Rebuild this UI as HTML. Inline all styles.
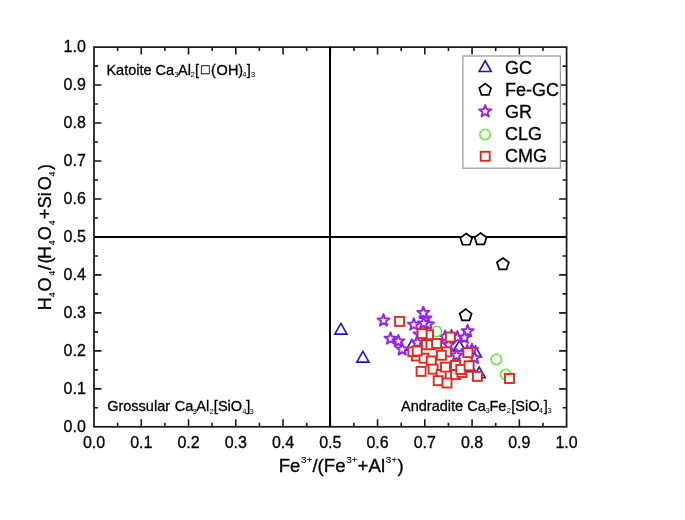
<!DOCTYPE html>
<html><head><meta charset="utf-8"><style>
html,body{margin:0;padding:0;background:#fff;width:685px;height:520px;overflow:hidden}
svg{display:block;filter:blur(0.3px)}
text{font-family:"Liberation Sans",Arial,sans-serif;fill:#000;stroke:#000;stroke-width:0.3px}
.tl{font-size:16px}
.at{font-size:18px}
.sup{font-size:9.6px;stroke-width:0.1px}
.sub{font-size:9px;stroke-width:0.1px}
.an{font-size:14.5px}
.s2{font-size:7.6px;stroke-width:0}
.lg{font-size:18px}
.box{font-size:14.3px;fill:#222}
</style></head><body>
<svg width="685" height="520" viewBox="0 0 685 520">
<rect width="685" height="520" fill="#fff"/>
<rect x="94.0" y="47.1" width="472.60" height="379.70" fill="none" stroke="#1a1a1a" stroke-width="1.75"/>
<path d="M117.63 426.80v-4M117.63 47.10v4M94.00 407.81h4M566.60 407.81h-4M141.26 426.80v-7.5M141.26 47.10v7.5M94.00 388.83h7.5M566.60 388.83h-7.5M164.89 426.80v-4M164.89 47.10v4M94.00 369.85h4M566.60 369.85h-4M188.52 426.80v-7.5M188.52 47.10v7.5M94.00 350.86h7.5M566.60 350.86h-7.5M212.15 426.80v-4M212.15 47.10v4M94.00 331.88h4M566.60 331.88h-4M235.78 426.80v-7.5M235.78 47.10v7.5M94.00 312.89h7.5M566.60 312.89h-7.5M259.41 426.80v-4M259.41 47.10v4M94.00 293.91h4M566.60 293.91h-4M283.04 426.80v-7.5M283.04 47.10v7.5M94.00 274.92h7.5M566.60 274.92h-7.5M306.67 426.80v-4M306.67 47.10v4M94.00 255.94h4M566.60 255.94h-4M330.30 426.80v-7.5M330.30 47.10v7.5M94.00 236.95h7.5M566.60 236.95h-7.5M353.93 426.80v-4M353.93 47.10v4M94.00 217.97h4M566.60 217.97h-4M377.56 426.80v-7.5M377.56 47.10v7.5M94.00 198.98h7.5M566.60 198.98h-7.5M401.19 426.80v-4M401.19 47.10v4M94.00 180.00h4M566.60 180.00h-4M424.82 426.80v-7.5M424.82 47.10v7.5M94.00 161.01h7.5M566.60 161.01h-7.5M448.45 426.80v-4M448.45 47.10v4M94.00 142.03h4M566.60 142.03h-4M472.08 426.80v-7.5M472.08 47.10v7.5M94.00 123.04h7.5M566.60 123.04h-7.5M495.71 426.80v-4M495.71 47.10v4M94.00 104.06h4M566.60 104.06h-4M519.34 426.80v-7.5M519.34 47.10v7.5M94.00 85.07h7.5M566.60 85.07h-7.5M542.97 426.80v-4M542.97 47.10v4M94.00 66.09h4M566.60 66.09h-4" stroke="#1a1a1a" stroke-width="1.6" fill="none"/>
<path d="M330.0 47.1V426.8M94.0 236.9H566.6" stroke="#000" stroke-width="2" fill="none"/>
<text x="94.00" y="448.4" class="tl" text-anchor="middle">0.0</text>
<text x="85.8" y="431.90" class="tl" text-anchor="end">0.0</text>
<text x="141.26" y="448.4" class="tl" text-anchor="middle">0.1</text>
<text x="85.8" y="393.93" class="tl" text-anchor="end">0.1</text>
<text x="188.52" y="448.4" class="tl" text-anchor="middle">0.2</text>
<text x="85.8" y="355.96" class="tl" text-anchor="end">0.2</text>
<text x="235.78" y="448.4" class="tl" text-anchor="middle">0.3</text>
<text x="85.8" y="317.99" class="tl" text-anchor="end">0.3</text>
<text x="283.04" y="448.4" class="tl" text-anchor="middle">0.4</text>
<text x="85.8" y="280.02" class="tl" text-anchor="end">0.4</text>
<text x="330.30" y="448.4" class="tl" text-anchor="middle">0.5</text>
<text x="85.8" y="242.05" class="tl" text-anchor="end">0.5</text>
<text x="377.56" y="448.4" class="tl" text-anchor="middle">0.6</text>
<text x="85.8" y="204.08" class="tl" text-anchor="end">0.6</text>
<text x="424.82" y="448.4" class="tl" text-anchor="middle">0.7</text>
<text x="85.8" y="166.11" class="tl" text-anchor="end">0.7</text>
<text x="472.08" y="448.4" class="tl" text-anchor="middle">0.8</text>
<text x="85.8" y="128.14" class="tl" text-anchor="end">0.8</text>
<text x="519.34" y="448.4" class="tl" text-anchor="middle">0.9</text>
<text x="85.8" y="90.17" class="tl" text-anchor="end">0.9</text>
<text x="566.60" y="448.4" class="tl" text-anchor="middle">1.0</text>
<text x="85.8" y="52.20" class="tl" text-anchor="end">1.0</text>
<text transform="translate(278.7 471.9) scale(1.037 1)" class="at" x="0" y="0">Fe<tspan class="sup" dx="0.6" y="-9.3">3+</tspan><tspan y="0">/(Fe</tspan><tspan class="sup" dx="0.6" y="-9.3">3+</tspan><tspan y="0">+Al</tspan><tspan class="sup" dx="0.6" y="-9.3">3+</tspan><tspan y="0" dx="0.4">)</tspan></text>
<text transform="translate(51.3 310) rotate(-90)" class="at"><tspan x="-0.23" y="0">H</tspan><tspan class="sub" x="12.89" y="3.6">4</tspan><tspan x="18.55" y="0">O</tspan><tspan class="sub" x="34.19" y="3.6">4</tspan><tspan x="40.00" y="0">/</tspan><tspan x="46.40" y="0">(</tspan><tspan x="51.00" y="0">H</tspan><tspan class="sub" x="64.80" y="3.6">4</tspan><tspan x="69.75" y="0">O</tspan><tspan class="sub" x="84.80" y="3.6">4</tspan><tspan x="91.00" y="0">+</tspan><tspan x="101.70" y="0">Si</tspan><tspan x="119.75" y="0">O</tspan><tspan class="sub" x="133.50" y="3.6">4</tspan><tspan x="139.90" y="0">)</tspan></text>
<text class="an"><tspan x="106.41" y="74.60">Katoite </tspan><tspan x="155.56" y="74.60">Ca</tspan><tspan class="s2" x="174.21" y="77.20">3</tspan><tspan x="178.07" y="74.60">Al</tspan><tspan class="s2" x="190.52" y="77.20">2</tspan><tspan x="195.07" y="74.60">[</tspan><tspan class="box" x="201.06" y="74.40">&#9633;</tspan><tspan x="210.90" y="74.60">(</tspan><tspan x="216.62" y="74.60">OH)</tspan><tspan class="s2" x="242.33" y="77.20">4</tspan><tspan x="246.78" y="74.60">]</tspan><tspan class="s2" x="250.91" y="77.20">3</tspan></text>
<text class="an"><tspan x="107.18" y="411.40">Grossular </tspan><tspan x="174.66" y="411.40">Ca</tspan><tspan class="s2" x="192.61" y="414.00">3</tspan><tspan x="196.37" y="411.40">Al</tspan><tspan class="s2" x="209.42" y="414.00">2</tspan><tspan x="213.87" y="411.40">[SiO</tspan><tspan class="s2" x="242.33" y="414.00">4</tspan><tspan x="246.28" y="411.40">]</tspan><tspan class="s2" x="249.61" y="414.00">3</tspan></text>
<text class="an"><tspan x="401.07" y="410.70">Andradite </tspan><tspan x="467.26" y="410.70">Ca</tspan><tspan class="s2" x="485.61" y="413.30">3</tspan><tspan x="489.51" y="410.70">Fe</tspan><tspan class="s2" x="506.82" y="413.30">2</tspan><tspan x="511.27" y="410.70">[SiO</tspan><tspan class="s2" x="538.83" y="413.30">4</tspan><tspan x="543.68" y="410.70">]</tspan><tspan class="s2" x="547.41" y="413.30">3</tspan></text>
<path d="M334.80 334.10H347.00L340.90 323.40Z" fill="#fff" stroke="#1b12d8" stroke-width="1.6" stroke-linejoin="miter"/>
<path d="M356.80 362.10H369.00L362.90 351.40Z" fill="#fff" stroke="#1b12d8" stroke-width="1.6" stroke-linejoin="miter"/>
<path d="M405.90 350.30H418.10L412.00 339.60Z" fill="#fff" stroke="#1b12d8" stroke-width="1.6" stroke-linejoin="miter"/>
<path d="M453.30 351.00H465.50L459.40 340.30Z" fill="#fff" stroke="#1b12d8" stroke-width="1.6" stroke-linejoin="miter"/>
<path d="M469.30 356.90H481.50L475.40 346.20Z" fill="#fff" stroke="#1b12d8" stroke-width="1.6" stroke-linejoin="miter"/>
<path d="M463.40 371.80H475.60L469.50 361.10Z" fill="#fff" stroke="#1b12d8" stroke-width="1.6" stroke-linejoin="miter"/>
<path d="M473.10 377.80H485.30L479.20 367.10Z" fill="#fff" stroke="#1b12d8" stroke-width="1.6" stroke-linejoin="miter"/>
<polygon points="466.20,233.45 472.14,237.77 469.87,244.76 462.53,244.76 460.26,237.77" fill="#fff" stroke="#000" stroke-width="1.7"/>
<polygon points="480.60,233.05 486.54,237.37 484.27,244.36 476.93,244.36 474.66,237.37" fill="#fff" stroke="#000" stroke-width="1.7"/>
<polygon points="502.90,258.05 508.84,262.37 506.57,269.36 499.23,269.36 496.96,262.37" fill="#fff" stroke="#000" stroke-width="1.7"/>
<polygon points="465.70,309.15 471.64,313.47 469.37,320.46 462.03,320.46 459.76,313.47" fill="#fff" stroke="#000" stroke-width="1.7"/>
<polygon points="425.50,312.10 427.03,316.30 431.49,316.45 427.97,319.20 429.20,323.50 425.50,321.00 421.80,323.50 423.03,319.20 419.51,316.45 423.97,316.30" fill="#fff" stroke="#9420f2" stroke-width="1.9" stroke-linejoin="round"/>
<polygon points="428.00,318.20 429.53,322.40 433.99,322.55 430.47,325.30 431.70,329.60 428.00,327.10 424.30,329.60 425.53,325.30 422.01,322.55 426.47,322.40" fill="#fff" stroke="#9420f2" stroke-width="1.9" stroke-linejoin="round"/>
<polygon points="419.50,328.20 421.03,332.40 425.49,332.55 421.97,335.30 423.20,339.60 419.50,337.10 415.80,339.60 417.03,335.30 413.51,332.55 417.97,332.40" fill="#fff" stroke="#9420f2" stroke-width="1.9" stroke-linejoin="round"/>
<polygon points="383.50,314.20 385.03,318.40 389.49,318.55 385.97,321.30 387.20,325.60 383.50,323.10 379.80,325.60 381.03,321.30 377.51,318.55 381.97,318.40" fill="#fff" stroke="#9420f2" stroke-width="1.9" stroke-linejoin="round"/>
<polygon points="423.30,306.70 424.83,310.90 429.29,311.05 425.77,313.80 427.00,318.10 423.30,315.60 419.60,318.10 420.83,313.80 417.31,311.05 421.77,310.90" fill="#fff" stroke="#9420f2" stroke-width="1.9" stroke-linejoin="round"/>
<polygon points="413.80,318.30 415.33,322.50 419.79,322.65 416.27,325.40 417.50,329.70 413.80,327.20 410.10,329.70 411.33,325.40 407.81,322.65 412.27,322.50" fill="#fff" stroke="#9420f2" stroke-width="1.9" stroke-linejoin="round"/>
<polygon points="423.80,317.00 425.33,321.20 429.79,321.35 426.27,324.10 427.50,328.40 423.80,325.90 420.10,328.40 421.33,324.10 417.81,321.35 422.27,321.20" fill="#fff" stroke="#9420f2" stroke-width="1.9" stroke-linejoin="round"/>
<polygon points="390.50,332.30 392.03,336.50 396.49,336.65 392.97,339.40 394.20,343.70 390.50,341.20 386.80,343.70 388.03,339.40 384.51,336.65 388.97,336.50" fill="#fff" stroke="#9420f2" stroke-width="1.9" stroke-linejoin="round"/>
<polygon points="398.40,335.00 399.93,339.20 404.39,339.35 400.87,342.10 402.10,346.40 398.40,343.90 394.70,346.40 395.93,342.10 392.41,339.35 396.87,339.20" fill="#fff" stroke="#9420f2" stroke-width="1.9" stroke-linejoin="round"/>
<polygon points="402.20,343.20 403.73,347.40 408.19,347.55 404.67,350.30 405.90,354.60 402.20,352.10 398.50,354.60 399.73,350.30 396.21,347.55 400.67,347.40" fill="#fff" stroke="#9420f2" stroke-width="1.9" stroke-linejoin="round"/>
<polygon points="417.40,336.30 418.93,340.50 423.39,340.65 419.87,343.40 421.10,347.70 417.40,345.20 413.70,347.70 414.93,343.40 411.41,340.65 415.87,340.50" fill="#fff" stroke="#9420f2" stroke-width="1.9" stroke-linejoin="round"/>
<polygon points="445.10,330.50 446.63,334.70 451.09,334.85 447.57,337.60 448.80,341.90 445.10,339.40 441.40,341.90 442.63,337.60 439.11,334.85 443.57,334.70" fill="#fff" stroke="#9420f2" stroke-width="1.9" stroke-linejoin="round"/>
<polygon points="451.50,329.90 453.03,334.10 457.49,334.25 453.97,337.00 455.20,341.30 451.50,338.80 447.80,341.30 449.03,337.00 445.51,334.25 449.97,334.10" fill="#fff" stroke="#9420f2" stroke-width="1.9" stroke-linejoin="round"/>
<polygon points="457.40,331.10 458.93,335.30 463.39,335.45 459.87,338.20 461.10,342.50 457.40,340.00 453.70,342.50 454.93,338.20 451.41,335.45 455.87,335.30" fill="#fff" stroke="#9420f2" stroke-width="1.9" stroke-linejoin="round"/>
<polygon points="467.60,324.80 469.13,329.00 473.59,329.15 470.07,331.90 471.30,336.20 467.60,333.70 463.90,336.20 465.13,331.90 461.61,329.15 466.07,329.00" fill="#fff" stroke="#9420f2" stroke-width="1.9" stroke-linejoin="round"/>
<polygon points="464.40,331.50 465.93,335.70 470.39,335.85 466.87,338.60 468.10,342.90 464.40,340.40 460.70,342.90 461.93,338.60 458.41,335.85 462.87,335.70" fill="#fff" stroke="#9420f2" stroke-width="1.9" stroke-linejoin="round"/>
<polygon points="448.60,338.50 450.13,342.70 454.59,342.85 451.07,345.60 452.30,349.90 448.60,347.40 444.90,349.90 446.13,345.60 442.61,342.85 447.07,342.70" fill="#fff" stroke="#9420f2" stroke-width="1.9" stroke-linejoin="round"/>
<polygon points="467.20,344.90 468.73,349.10 473.19,349.25 469.67,352.00 470.90,356.30 467.20,353.80 463.50,356.30 464.73,352.00 461.21,349.25 465.67,349.10" fill="#fff" stroke="#9420f2" stroke-width="1.9" stroke-linejoin="round"/>
<polygon points="471.90,343.70 473.43,347.90 477.89,348.05 474.37,350.80 475.60,355.10 471.90,352.60 468.20,355.10 469.43,350.80 465.91,348.05 470.37,347.90" fill="#fff" stroke="#9420f2" stroke-width="1.9" stroke-linejoin="round"/>
<polygon points="456.50,349.20 458.03,353.40 462.49,353.55 458.97,356.30 460.20,360.60 456.50,358.10 452.80,360.60 454.03,356.30 450.51,353.55 454.97,353.40" fill="#fff" stroke="#9420f2" stroke-width="1.9" stroke-linejoin="round"/>
<polygon points="474.50,351.70 476.03,355.90 480.49,356.05 476.97,358.80 478.20,363.10 474.50,360.60 470.80,363.10 472.03,358.80 468.51,356.05 472.97,355.90" fill="#fff" stroke="#9420f2" stroke-width="1.9" stroke-linejoin="round"/>
<circle cx="436.60" cy="331.50" r="5.2" fill="#fff" stroke="#64ec2a" stroke-width="1.6"/>
<circle cx="496.30" cy="359.50" r="5.2" fill="#fff" stroke="#64ec2a" stroke-width="1.6"/>
<circle cx="505.60" cy="374.50" r="5.2" fill="#fff" stroke="#64ec2a" stroke-width="1.6"/>
<rect x="411.90" y="351.50" width="9" height="9" fill="#fff" stroke="#e6281c" stroke-width="1.9"/>
<rect x="419.50" y="353.70" width="9" height="9" fill="#fff" stroke="#e6281c" stroke-width="1.9"/>
<rect x="395.10" y="316.90" width="9" height="9" fill="#fff" stroke="#e6281c" stroke-width="1.9"/>
<rect x="424.00" y="330.30" width="9" height="9" fill="#fff" stroke="#e6281c" stroke-width="1.9"/>
<rect x="417.60" y="329.10" width="9" height="9" fill="#fff" stroke="#e6281c" stroke-width="1.9"/>
<rect x="445.90" y="332.60" width="9" height="9" fill="#fff" stroke="#e6281c" stroke-width="1.9"/>
<rect x="421.90" y="340.20" width="9" height="9" fill="#fff" stroke="#e6281c" stroke-width="1.9"/>
<rect x="426.50" y="340.20" width="9" height="9" fill="#fff" stroke="#e6281c" stroke-width="1.9"/>
<rect x="432.10" y="339.00" width="9" height="9" fill="#fff" stroke="#e6281c" stroke-width="1.9"/>
<rect x="408.30" y="347.30" width="9" height="9" fill="#fff" stroke="#e6281c" stroke-width="1.9"/>
<rect x="412.70" y="346.50" width="9" height="9" fill="#fff" stroke="#e6281c" stroke-width="1.9"/>
<rect x="426.80" y="356.50" width="9" height="9" fill="#fff" stroke="#e6281c" stroke-width="1.9"/>
<rect x="442.00" y="347.40" width="9" height="9" fill="#fff" stroke="#e6281c" stroke-width="1.9"/>
<rect x="436.90" y="350.80" width="9" height="9" fill="#fff" stroke="#e6281c" stroke-width="1.9"/>
<rect x="463.40" y="348.10" width="9" height="9" fill="#fff" stroke="#e6281c" stroke-width="1.9"/>
<rect x="416.60" y="366.90" width="9" height="9" fill="#fff" stroke="#e6281c" stroke-width="1.9"/>
<rect x="428.60" y="364.60" width="9" height="9" fill="#fff" stroke="#e6281c" stroke-width="1.9"/>
<rect x="436.70" y="370.00" width="9" height="9" fill="#fff" stroke="#e6281c" stroke-width="1.9"/>
<rect x="441.00" y="362.60" width="9" height="9" fill="#fff" stroke="#e6281c" stroke-width="1.9"/>
<rect x="451.00" y="361.00" width="9" height="9" fill="#fff" stroke="#e6281c" stroke-width="1.9"/>
<rect x="451.10" y="370.10" width="9" height="9" fill="#fff" stroke="#e6281c" stroke-width="1.9"/>
<rect x="457.50" y="368.00" width="9" height="9" fill="#fff" stroke="#e6281c" stroke-width="1.9"/>
<rect x="456.30" y="365.00" width="9" height="9" fill="#fff" stroke="#e6281c" stroke-width="1.9"/>
<rect x="464.60" y="361.30" width="9" height="9" fill="#fff" stroke="#e6281c" stroke-width="1.9"/>
<rect x="472.90" y="371.90" width="9" height="9" fill="#fff" stroke="#e6281c" stroke-width="1.9"/>
<rect x="433.70" y="376.20" width="9" height="9" fill="#fff" stroke="#e6281c" stroke-width="1.9"/>
<rect x="442.50" y="378.50" width="9" height="9" fill="#fff" stroke="#e6281c" stroke-width="1.9"/>
<rect x="505.00" y="374.00" width="9" height="9" fill="#fff" stroke="#e6281c" stroke-width="1.9"/>
<rect x="462.9" y="56.0" width="97.5" height="112.2" fill="#fff" stroke="#a0a0a0" stroke-width="1.3"/>
<path d="M479.10 71.50H491.30L485.20 60.80Z" fill="#fff" stroke="#1b12d8" stroke-width="1.6" stroke-linejoin="miter"/>
<polygon points="485.20,83.65 491.14,87.97 488.87,94.96 481.53,94.96 479.26,87.97" fill="#fff" stroke="#000" stroke-width="1.7"/>
<polygon points="485.20,105.10 486.73,109.30 491.19,109.45 487.67,112.20 488.90,116.50 485.20,114.00 481.50,116.50 482.73,112.20 479.21,109.45 483.67,109.30" fill="#fff" stroke="#9420f2" stroke-width="1.9" stroke-linejoin="round"/>
<circle cx="485.00" cy="134.40" r="5.2" fill="#fff" stroke="#64ec2a" stroke-width="1.6"/>
<rect x="480.70" y="151.80" width="9" height="9" fill="#fff" stroke="#e6281c" stroke-width="1.9"/>
<text x="505.1" y="73.60" class="lg">GC</text>
<text x="505.1" y="95.67" class="lg">Fe-GC</text>
<text x="505.1" y="117.74" class="lg">GR</text>
<text x="505.1" y="139.81" class="lg">CLG</text>
<text x="505.1" y="161.88" class="lg">CMG</text>
</svg>
</body></html>
